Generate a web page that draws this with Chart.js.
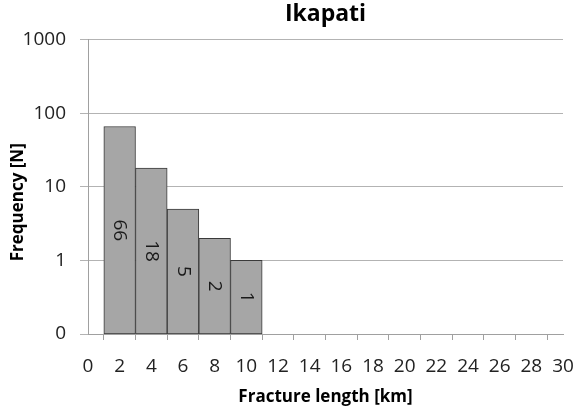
<!DOCTYPE html>
<html>
<head>
<meta charset="utf-8">
<script src="https://cdn.jsdelivr.net/npm/chart.js@4"></script>
<style>
  html, body { margin: 0; padding: 0; background: #fff; }
  #grafica { display: block; }
</style>
</head>
<body>
<canvas id="grafica"></canvas>
<script>
// Datos del histograma (centros de clase en km y frecuencias)
const binCenters = [2, 4, 6, 8, 10];
const counts = [66, 18, 5, 2, 1];
const yTicks = [0.1, 1, 10, 100, 1000];
const yTickLabels = ["0", "1", "10", "100", "1000"];

const canvas = document.getElementById("grafica");
canvas.width = 581;
canvas.height = 412;

const fontFamily = "'Open Sans', 'Noto Sans', sans-serif";

// Etiquetas giradas dentro de cada barra
const barLabels = {
    id: "barLabels",
    afterDatasetsDraw(chart) {
        const ctx = chart.ctx;
        const meta = chart.getDatasetMeta(0);
        ctx.save();
        ctx.fillStyle = "#1a1a1a";
        ctx.font = "19px " + fontFamily;
        ctx.textAlign = "center";
        ctx.textBaseline = "middle";
        meta.data.forEach((bar, i) => {
            const cy = (bar.y + bar.base) / 2;
            ctx.save();
            ctx.translate(bar.x, cy);
            ctx.rotate(Math.PI / 2);
            ctx.fillText(String(counts[i]), 0, 0);
            ctx.restore();
        });
        ctx.restore();
    }
};

new Chart(canvas, {
    type: "bar",
    data: {
        datasets: [
            {
                label: "Frequency",
                data: binCenters.map((x, i) => ({ x: x, y: counts[i] })),
                backgroundColor: "#a6a6a6",
                borderColor: "#3a3a3a",
                borderWidth: 1,
                borderSkipped: false,
                barPercentage: 1,
                categoryPercentage: 1
            }
        ]
    },
    options: {
        responsive: false,
        animation: false,
        layout: { padding: { left: 0, right: 18, top: 0, bottom: 0 } },
        plugins: {
            legend: { display: false },
            tooltip: { enabled: false },
            title: {
                display: true,
                fullSize: false,
                text: "Ikapati",
                color: "#000",
                font: { family: fontFamily, size: 23, weight: "bold" },
                padding: { top: 1, bottom: 11 }
            }
        },
        scales: {
            x: {
                type: "linear",
                min: 0,
                max: 30,
                offset: false,
                ticks: {
                    stepSize: 2,
                    color: "#222",
                    font: { family: fontFamily, size: 19 },
                    padding: 15,
                    maxRotation: 0,
                    autoSkip: false
                },
                grid: {
                    drawOnChartArea: false,
                    color: "#a0a0a0",
                    tickLength: 6
                },
                border: { color: "#a0a0a0" },
                title: {
                    display: true,
                    text: "Fracture length [km]",
                    color: "#000",
                    font: { family: fontFamily, size: 17, weight: "bold" },
                    padding: { top: 0, bottom: 5 }
                },
                afterFit(scale) {
                    scale.height = 78;
                    scale.paddingLeft = 0;
                    scale.paddingRight = 0;
                }
            },
            y: {
                type: "logarithmic",
                min: 0.1,
                max: 1000,
                afterBuildTicks(scale) {
                    scale.ticks = yTicks.map(v => ({ value: v }));
                },
                ticks: {
                    color: "#222",
                    font: { family: fontFamily, size: 19 },
                    padding: 14,
                    callback: (v, i) => yTickLabels[i]
                },
                grid: {
                    color: "#b3b3b3",
                    tickLength: 8
                },
                border: { color: "#a0a0a0" },
                title: {
                    display: true,
                    text: "Frequency [N]       ",
                    color: "#000",
                    font: { family: fontFamily, size: 17, weight: "bold" },
                    padding: { top: 8, bottom: 0 }
                },
                afterFit(scale) { scale.width = 88; }
            }
        }
    },
    plugins: [barLabels]
});
</script>
</body>
</html>
